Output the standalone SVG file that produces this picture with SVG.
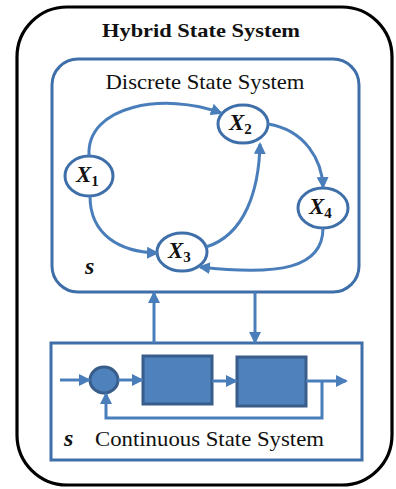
<svg xmlns="http://www.w3.org/2000/svg" width="396" height="489" viewBox="0 0 396 489">
<style>
.frame{fill:none;stroke:#3F6FA9;stroke-width:3}
.conn{fill:none;stroke:#4A7EBB;stroke-width:3}
.node{fill:#fff;stroke:#3F6FA9;stroke-width:3}
.blk{fill:#4F81BD;stroke:#385D8A;stroke-width:3}
.t{font-family:"Liberation Serif","Times New Roman",serif;fill:#111}
.x{font-family:"Liberation Serif","Times New Roman",serif;font-weight:bold;font-style:italic;font-size:23px;fill:#111}
.sub{font-size:15px;font-style:normal}
</style>
<defs>
<marker id="ah" markerUnits="userSpaceOnUse" markerWidth="12" markerHeight="12" viewBox="0 0 12 12" refX="10" refY="6" orient="auto">
<path d="M0,0 L12,6 L0,12 z" fill="#4A7EBB"/>
</marker>
</defs>
<rect x="0" y="0" width="396" height="489" fill="#fff"/>
<g id="hybrid">
<rect x="17" y="7" width="375" height="478" rx="50" ry="50" fill="none" stroke="#000" stroke-width="3.2"/>
<text class="t" x="201" y="37" font-family="Liberation Serif, serif" font-size="19" font-weight="bold" text-anchor="middle" textLength="198" lengthAdjust="spacingAndGlyphs">Hybrid  State System</text>
</g>
<g id="discrete">
<rect class="frame" x="52" y="59" width="307" height="233" rx="26" ry="26"/>
<text class="t" x="205" y="89" font-family="Liberation Serif, serif" font-size="22" text-anchor="middle" textLength="199" lengthAdjust="spacingAndGlyphs">Discrete State System</text>
<text class="t" x="85" y="274" font-family="Liberation Serif, serif" font-size="24" font-weight="bold" font-style="italic">s</text>
</g>
<g id="continuous">
<rect class="frame" x="51" y="343" width="311" height="117"/>
<text class="t" x="64" y="446" font-family="Liberation Serif, serif" font-size="24" font-weight="bold" font-style="italic">s</text>
<text class="t" x="95" y="446" font-family="Liberation Serif, serif" font-size="22" textLength="229" lengthAdjust="spacingAndGlyphs">Continuous State System</text>
</g>
<g id="sum"><ellipse cx="104" cy="380" rx="14" ry="13" fill="#4F81BD" stroke="#385D8A" stroke-width="3"/></g>
<g id="block1"><rect class="blk" x="143" y="356" width="69" height="48"/></g>
<g id="block2"><rect class="blk" x="237" y="357" width="69" height="49"/></g>
<g id="X1"><ellipse class="node" cx="89" cy="176" rx="24" ry="20"/><text class="x" x="76" y="182">X<tspan class="sub" dy="4">1</tspan></text></g>
<g id="X2"><ellipse class="node" cx="243" cy="124" rx="25" ry="19"/><text class="x" x="229" y="130">X<tspan class="sub" dy="4">2</tspan></text></g>
<g id="X3"><ellipse class="node" cx="182" cy="252" rx="25" ry="19"/><text class="x" x="168" y="258">X<tspan class="sub" dy="4">3</tspan></text></g>
<g id="X4"><ellipse class="node" cx="323" cy="208" rx="25" ry="20"/><text class="x" x="309" y="214">X<tspan class="sub" dy="4">4</tspan></text></g>
<g id="connectors">
<path class="conn" d="M89,156 C86,105 165,92 221,113" marker-end="url(#ah)"/>
<path class="conn" d="M90,196 C90,235 120,252 157,253" marker-end="url(#ah)"/>
<path class="conn" d="M206,247 C245,235 259,190 260,144" marker-end="url(#ah)"/>
<path class="conn" d="M268,124 C305,130 322,160 323,187" marker-end="url(#ah)"/>
<path class="conn" d="M323,228 C323,268 280,276 200,267" marker-end="url(#ah)"/>
<path class="conn" d="M154,343 L154,293" marker-end="url(#ah)"/>
<path class="conn" d="M255,292 L255,342" marker-end="url(#ah)"/>
<path class="conn" d="M60,380 L89,380" marker-end="url(#ah)"/>
<path class="conn" d="M118,380 L142,380" marker-end="url(#ah)"/>
<path class="conn" d="M212,381 L236,381" marker-end="url(#ah)"/>
<path class="conn" d="M306,381 L346,381" marker-end="url(#ah)"/>
<path class="conn" d="M322,381 L322,418 L106,418 L106,394" marker-end="url(#ah)"/>
</g>
</svg>
